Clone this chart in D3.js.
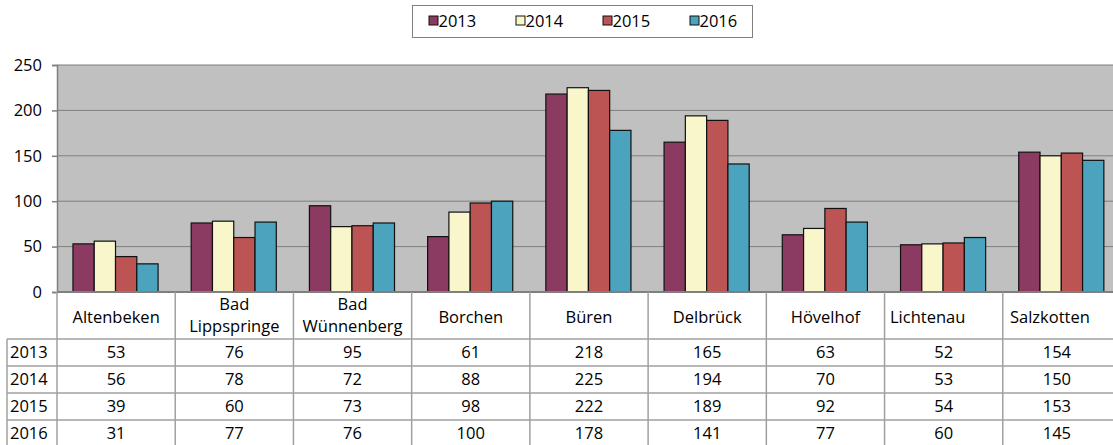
<!DOCTYPE html>
<html>
<head>
<meta charset="utf-8">
<script src="https://cdn.jsdelivr.net/npm/d3@7"></script>
<style>
  body { margin: 0; background: #fff; }
  svg { display: block; font-family: "Open Sans", "Noto Sans", sans-serif; }
</style>
</head>
<body>
<svg id="chart" width="1113" height="445"></svg>
<script>
const categories = ['Altenbeken', 'Bad Lippspringe', 'Bad Wünnenberg', 'Borchen', 'Büren', 'Delbrück', 'Hövelhof', 'Lichtenau', 'Salzkotten'];
const years = ['2013', '2014', '2015', '2016'];
const v2013 = [53, 76, 95, 61, 218, 165, 63, 52, 154];
const v2014 = [56, 78, 72, 88, 225, 194, 70, 53, 150];
const v2015 = [39, 60, 73, 98, 222, 189, 92, 54, 153];
const v2016 = [31, 77, 76, 100, 178, 141, 77, 60, 145];
const yTicks = [0, 50, 100, 150, 200, 250];
const colors = ['#8b3b62', '#f9f6cb', '#bb5453', '#4ba3be'];

const series = [v2013, v2014, v2015, v2016];
const fs = 16.5;

const svg = d3.select('#chart');
const pLeft = 57, pRight = 1121, pTop = 65, pBottom = 292;
const rowH = [339, 366, 393, 420, 447];

const x = d3.scaleBand().domain(categories).range([pLeft, pRight]);
const bw = x.bandwidth();
const xs = d3.scaleBand().domain(years).range([bw * 0.135, bw * 0.855]);
const y = d3.scaleLinear().domain([0, 250]).range([pBottom, pTop]);

// plot background
svg.append('rect')
    .attr('x', pLeft).attr('y', pTop)
    .attr('width', pRight - pLeft).attr('height', pBottom - pTop)
    .attr('fill', '#c0c0c0');

// gridlines
svg.append('g')
    .selectAll('line')
    .data(yTicks.filter(d => d > 0))
    .join('line')
    .attr('x1', pLeft).attr('x2', pRight)
    .attr('y1', d => y(d)).attr('y2', d => y(d))
    .attr('stroke', '#7f7f7f')
    .attr('stroke-width', 1);

// bars
const groups = svg.append('g')
    .selectAll('g')
    .data(categories)
    .join('g')
    .attr('transform', d => `translate(${x(d)},0)`);

groups.selectAll('rect')
    .data((c, i) => years.map((yr, j) => ({ yr, j, v: series[j][i] })))
    .join('rect')
    .attr('x', d => xs(d.yr))
    .attr('y', d => y(d.v))
    .attr('width', xs.bandwidth())
    .attr('height', d => y(0) - y(d.v))
    .attr('fill', d => colors[d.j])
    .attr('stroke', '#111')
    .attr('stroke-width', 1.2);

// y axis
const yAxis = svg.append('g')
    .attr('transform', `translate(${pLeft},0)`)
    .call(d3.axisLeft(y).tickValues(yTicks).tickSize(5).tickPadding(10));
yAxis.select('.domain').attr('stroke', '#7f7f7f').attr('stroke-width', 1.5);
yAxis.selectAll('.tick line').attr('stroke', '#7f7f7f').attr('stroke-width', 1.5);
yAxis.selectAll('.tick text')
    .attr('font-size', fs)
    .attr('font-family', '"Open Sans", "Noto Sans", sans-serif')
    .attr('fill', '#000');

// x axis base line
svg.append('line')
    .attr('x1', pLeft).attr('x2', pRight)
    .attr('y1', pBottom).attr('y2', pBottom)
    .attr('stroke', '#7f7f7f').attr('stroke-width', 2);

// data table
const table = svg.append('g');
const gridColor = '#a0a0a0';

// vertical lines
table.selectAll('line.v')
    .data(categories.map(c => x(c)).concat([pRight]))
    .join('line')
    .attr('class', 'v')
    .attr('x1', d => d).attr('x2', d => d)
    .attr('y1', pBottom).attr('y2', 445)
    .attr('stroke', gridColor).attr('stroke-width', 1.5);

table.append('line')
    .attr('x1', 7).attr('x2', 7)
    .attr('y1', rowH[0]).attr('y2', 445)
    .attr('stroke', gridColor).attr('stroke-width', 1.5);

// horizontal lines
table.selectAll('line.h')
    .data(rowH.slice(0, 4))
    .join('line')
    .attr('class', 'h')
    .attr('x1', 7).attr('x2', pRight)
    .attr('y1', d => d).attr('y2', d => d)
    .attr('stroke', gridColor).attr('stroke-width', 1.5);

// category header labels (one text per line)
const headerLines = [];
categories.forEach(c => {
    const parts = c.split(' ');
    let cx = x(c) + bw / 2;
    if (c === 'Lichtenau') cx -= 16;
    if (c === 'Salzkotten') cx -= 12;
    if (parts.length === 1) {
        headerLines.push({ t: c, x: cx, y: 323 });
    } else {
        headerLines.push({ t: parts[0], x: cx, y: 310 });
        headerLines.push({ t: parts[1], x: cx, y: 332 });
    }
});

table.selectAll('text.cat')
    .data(headerLines)
    .join('text')
    .attr('class', 'cat')
    .attr('x', d => d.x)
    .attr('y', d => d.y)
    .attr('text-anchor', 'middle')
    .attr('font-size', fs)
    .attr('fill', '#000')
    .text(d => d.t);

// row labels and values
years.forEach((yr, j) => {
    const yc = (rowH[j] + rowH[j + 1]) / 2;
    table.append('text')
        .attr('x', 10).attr('y', yc)
        .attr('dy', '0.36em')
        .attr('font-size', fs)
        .attr('fill', '#000')
        .text(yr);
    table.append('g')
        .selectAll('text')
        .data(categories)
        .join('text')
        .attr('x', c => x(c) + bw / 2 - (c === 'Salzkotten' ? 5 : 0))
        .attr('y', yc)
        .attr('dy', '0.36em')
        .attr('text-anchor', 'middle')
        .attr('font-size', fs)
        .attr('fill', '#000')
        .text((c, i) => series[j][i]);
});

// legend
const legend = svg.append('g');
legend.append('rect')
    .attr('x', 412.5).attr('y', 5.5)
    .attr('width', 340).attr('height', 32)
    .attr('fill', '#fff')
    .attr('stroke', '#808080').attr('stroke-width', 1);

const lx = d3.scalePoint().domain(years).range([429, 690]);
const items = legend.selectAll('g')
    .data(years)
    .join('g')
    .attr('transform', d => `translate(${lx(d)},21)`);
items.append('rect')
    .attr('x', 0).attr('y', -5)
    .attr('width', 9).attr('height', 9)
    .attr('fill', (d, i) => colors[i])
    .attr('stroke', '#111').attr('stroke-width', 1);
items.append('text')
    .attr('x', 9.5).attr('y', 0)
    .attr('dy', '0.36em')
    .attr('font-size', fs)
    .attr('fill', '#000')
    .text(d => d);
</script>
</body>
</html>
